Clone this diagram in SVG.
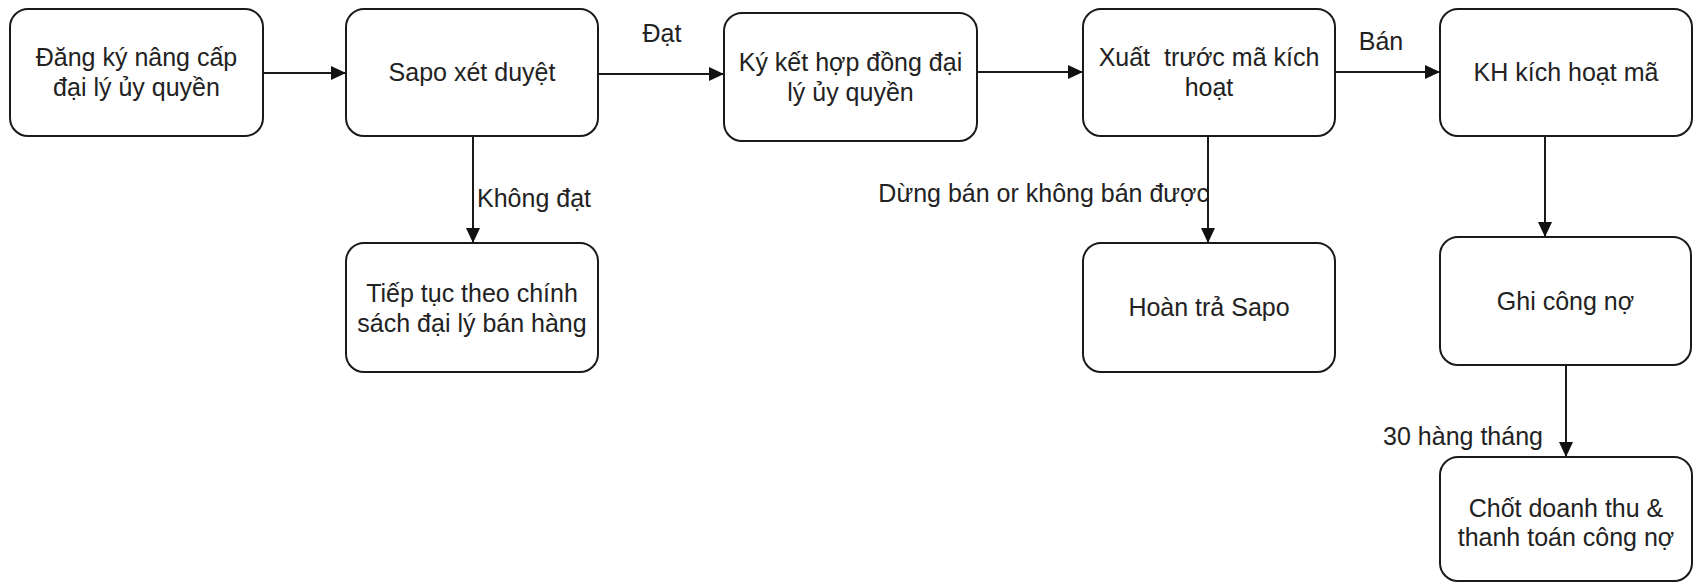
<svg xmlns="http://www.w3.org/2000/svg" width="1695" height="583" viewBox="0 0 1695 583">
<style>
.box{fill:#fff;stroke:#1a1a1a;stroke-width:2}
.t{font-family:"Liberation Sans",Arial,sans-serif;font-size:25px;fill:#222;text-anchor:middle;dominant-baseline:central}
.l{font-family:"Liberation Sans",Arial,sans-serif;font-size:25px;fill:#222;dominant-baseline:central}
.c{fill:none;stroke:#1a1a1a;stroke-width:2}
</style>
<defs>
<marker id="ah" markerUnits="userSpaceOnUse" markerWidth="16" markerHeight="14" refX="15" refY="7" orient="auto">
<path d="M0,0 L15,7 L0,14 Z" fill="#111"/>
</marker>
</defs>
<rect width="1695" height="583" fill="#fff"/>
<g id="connectors">
<line class="c" x1="263" y1="73" x2="346" y2="73" marker-end="url(#ah)"/>
<line class="c" x1="598" y1="74" x2="724" y2="74" marker-end="url(#ah)"/>
<line class="c" x1="977" y1="72" x2="1083" y2="72" marker-end="url(#ah)"/>
<line class="c" x1="1335" y1="72" x2="1440" y2="72" marker-end="url(#ah)"/>
<line class="c" x1="473" y1="136" x2="473" y2="243" marker-end="url(#ah)"/>
<line class="c" x1="1208" y1="136" x2="1208" y2="243" marker-end="url(#ah)"/>
<line class="c" x1="1545" y1="136" x2="1545" y2="237" marker-end="url(#ah)"/>
<line class="c" x1="1566" y1="365" x2="1566" y2="457" marker-end="url(#ah)"/>
<text class="t" x="662" y="33">Đạt</text>
<text class="t" x="1381" y="41">Bán</text>
<text class="l" x="477" y="198">Không đạt</text>
<text class="l" x="1209" y="193" text-anchor="end">Dừng bán or không bán được</text>
<text class="l" x="1543" y="436" text-anchor="end">30 hàng tháng</text>
</g>
<g id="n1"><rect class="box" x="10" y="9" width="253" height="127" rx="18"/><text class="t" x="136.5" y="57">Đăng ký nâng cấp</text><text class="t" x="136.5" y="87">đại lý ủy quyền</text></g>
<g id="n2"><rect class="box" x="346" y="9" width="252" height="127" rx="18"/><text class="t" x="472" y="72">Sapo xét duyệt</text></g>
<g id="n3"><rect class="box" x="724" y="13" width="253" height="128" rx="18"/><text class="t" x="850.5" y="62">Ký kết hợp đồng đại</text><text class="t" x="850.5" y="92">lý ủy quyền</text></g>
<g id="n4"><rect class="box" x="1083" y="9" width="252" height="127" rx="18"/><text class="t" x="1209" y="57" xml:space="preserve">Xuất  trước mã kích</text><text class="t" x="1209" y="87">hoạt</text></g>
<g id="n5"><rect class="box" x="1440" y="9" width="252" height="127" rx="18"/><text class="t" x="1566" y="72">KH kích hoạt mã</text></g>
<g id="n6"><rect class="box" x="346" y="243" width="252" height="129" rx="18"/><text class="t" x="472" y="293">Tiếp tục theo chính</text><text class="t" x="472" y="323">sách đại lý bán hàng</text></g>
<g id="n7"><rect class="box" x="1083" y="243" width="252" height="129" rx="18"/><text class="t" x="1209" y="307">Hoàn trả Sapo</text></g>
<g id="n8"><rect class="box" x="1440" y="237" width="251" height="128" rx="18"/><text class="t" x="1565.5" y="301">Ghi công nợ</text></g>
<g id="n9"><rect class="box" x="1440" y="457" width="252" height="124" rx="18"/><text class="t" x="1566" y="508">Chốt doanh thu &amp;</text><text class="t" x="1566" y="537">thanh toán công nợ</text></g>
</svg>
